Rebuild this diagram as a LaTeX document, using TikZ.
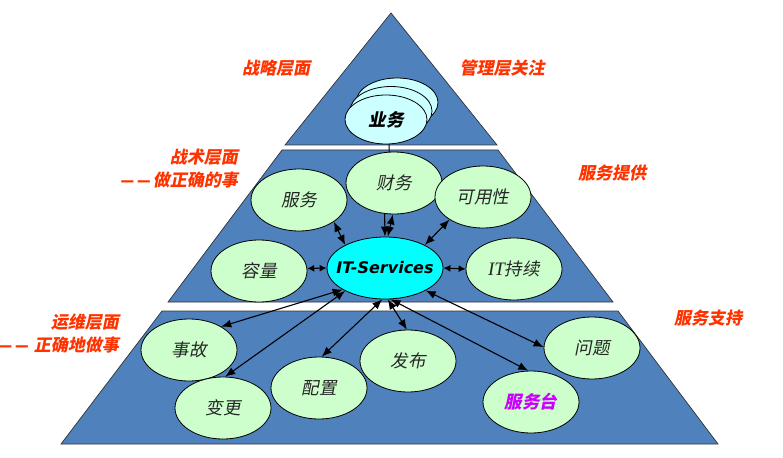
\documentclass[tikz,border=0pt]{standalone}
\usepackage{fontspec}
\usetikzlibrary{arrows.meta,shapes.geometric}
\newfontfamily\cjk[FakeSlant=0.2]{Noto Sans CJK SC}
\newfontfamily\dvs{DejaVu Sans}
\newfontfamily\lserif{Liberation Serif}
\definecolor{layerblue}{HTML}{4F81BD}
\definecolor{lightgreen}{HTML}{CCFFCC}
\definecolor{lightcyan}{HTML}{CCFFFF}
\definecolor{itcyan}{HTML}{00FFFF}
\definecolor{labelred}{HTML}{FF3300}
\definecolor{deskmag}{HTML}{CC00FF}
\newcommand{\mydash}{\scalebox{0.8}[1]{\dvs\bfseries —}}
\tikzset{
  layer/.style={fill=layerblue, draw=black!80, line width=0.7pt},
  bubble/.style={ellipse, draw=black, line width=0.8pt, fill=lightgreen, inner sep=0pt,
     minimum width=96pt, minimum height=62pt, font=\cjk\fontsize{17.5}{19}\selectfont, text=black!85},
  biz/.style={ellipse, draw=black, line width=0.8pt, fill=lightcyan, inner sep=0pt,
     minimum width=82pt, minimum height=49pt},
  lbl/.style={font=\cjk\bfseries\fontsize{17}{19}\selectfont, text=labelred, inner sep=0pt},
  dbl/.style={{Latex[length=10pt,width=8pt]}-{Latex[length=10pt,width=8pt]}, line width=1.1pt, black},
  dblshort/.style={{Latex[length=7pt,width=7pt]}-{Latex[length=7pt,width=7pt]}, line width=1.1pt, black},
  sgl/.style={-{Latex[length=10pt,width=8pt]}, line width=1.1pt, black}
}
\begin{document}
\begin{tikzpicture}[x=1pt,y=-1pt]
\useasboundingbox (0,0) rectangle (783,457);
% layers
\draw[layer] (391,13) -- (497,145) -- (285,145) -- cycle;
\draw[layer] (282,150) -- (498,150) -- (613,302) -- (168,302) -- cycle;
\draw[layer] (162,311) -- (618,311) -- (718,444) -- (61,444) -- cycle;
% business stack
\node[biz] (biz3) at (397,102.5) {};
\node[biz] (biz2) at (391,111) {};
\node[biz, font=\cjk\bfseries\fontsize{17.5}{19}\selectfont] (biz) at (386,119.5) {业务};
% middle layer
\node[bubble] (caiwu) at (394,183) {财务};
\node[bubble] (kyx) at (483,197) {可用性};
\node[bubble] (fuwu) at (299,200) {服务};
\node[bubble] (rongl) at (259,271) {容量};
\node[bubble] (itcx) at (514,269) {{\lserif\itshape\fontsize{19}{19}\selectfont IT}持续};
\node[ellipse, draw=black, line width=0.8pt, fill=itcyan, inner sep=0pt,
      minimum width=116pt, minimum height=62pt,
      font=\dvs\bfseries\itshape\fontsize{16}{19}\selectfont] (it) at (385,268) {\makebox[0pt]{IT-Services}};
% bottom layer
\node[bubble] (shigu) at (189,350) {事故};
\node[bubble] (biangeng) at (223,408) {变更};
\node[bubble] (peizhi) at (319,388) {配置};
\node[bubble] (fabu) at (408,361) {发布};
\node[bubble] (wenti) at (592,348) {问题};
\node[bubble, font=\cjk\bfseries\fontsize{17.5}{19}\selectfont, text=deskmag] (fwt) at (531,402) {服务台};
% connectors
\draw[line width=1pt] (biz.-83) -- (caiwu.99);
\draw[dbl] (fuwu.-32) -- (it.150);
\draw[sgl] (caiwu.-107) -- (it.90);
\draw[dbl] (it.85) -- (caiwu.-92);
\draw[dbl] (kyx.-146) -- (it.30);
\draw[dblshort] (rongl.3) -- (it.180);
\draw[dblshort] (it.0) -- (itcx.180);
\draw[dbl] (it.-153) -- (shigu.36);
\draw[dbl] (it.-150) -- (biangeng.86);
\draw[dbl] (it.-95) -- (peizhi.85);
\draw[dbl] (it.-85) -- (fabu.92);
\draw[dbl] (it.-80) -- (fwt.95);
\draw[dbl] (it.-29) -- (wenti.179);
% labels
\node[lbl] (l1) at (276,68) {战略层面};
\node[lbl] (l2) at (502,68) {管理层关注};
\node[lbl, anchor=east] (l3) at (238,157) {战术层面};
\node[lbl, anchor=east] (l4) at (238,180) {\mydash\hspace{3pt}\mydash\hspace{2pt}做正确的事};
\node[lbl] (l5) at (612,173) {服务提供};
\node[lbl, anchor=east] (l6) at (119,322) {运维层面};
\node[lbl, anchor=east] (l7) at (119,345) {\mydash\hspace{3pt}\mydash\hspace{5pt}正确地做事};
\node[lbl] (l8) at (708,318) {服务支持};
\end{tikzpicture}
\end{document}
